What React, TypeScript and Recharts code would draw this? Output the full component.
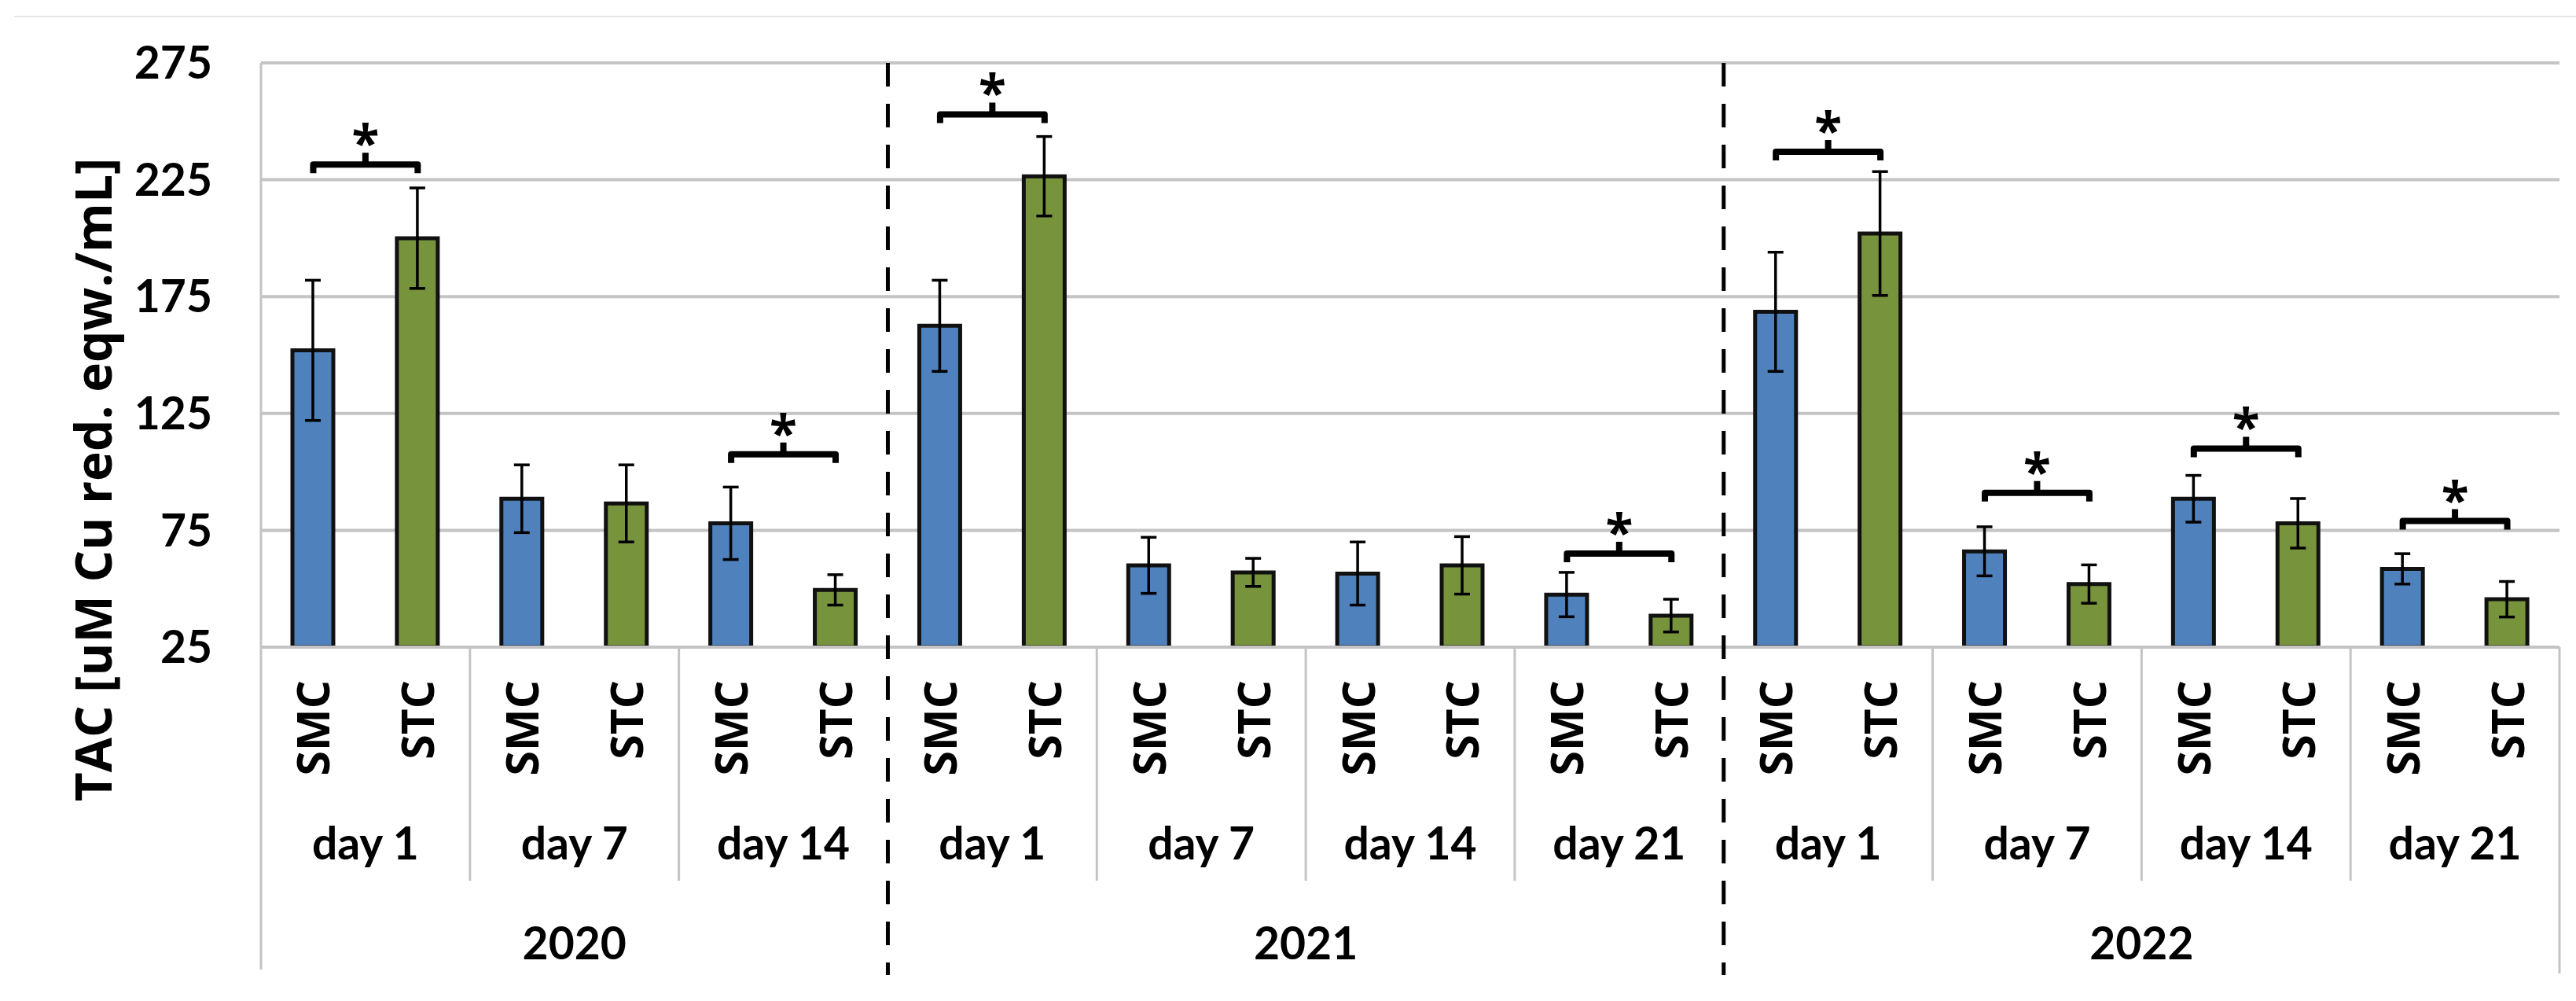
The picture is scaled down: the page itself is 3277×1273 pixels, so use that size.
import {
  BarChart,
  Bar,
  XAxis,
  YAxis,
  CartesianGrid,
  ErrorBar,
  Cell,
  ReferenceLine
} from "recharts"

const years = ["2020", "2021", "2022"]
const daysByYear = [
  ["day 1", "day 7", "day 14"],
  ["day 1", "day 7", "day 14", "day 21"],
  ["day 1", "day 7", "day 14", "day 21"]
]

// one value per day group, in the order above
const smcMean = [152, 88.5, 78, 162.5, 60, 56.5, 47.5, 168.5, 66, 88.5, 58.5]
const smcErr = [30, 14.5, 15.5, 19.5, 12, 13.5, 9.5, 25.5, 10.5, 10, 6.5]
const stcMean = [200, 86.5, 49.5, 226.5, 57, 60, 38.5, 202, 52, 78, 45.5]
const stcErr = [21.5, 16.5, 6.5, 17, 6, 12.3, 7, 26.5, 8.2, 10.6, 7.6]

// groups marked with * and the height of their bracket
const sigGroups = [0, 2, 3, 6, 7, 8, 9, 10]
const sigLevels = [231.5, 107.5, 253, 65, 237, 91, 110, 79]

const yTicks = [25, 75, 125, 175, 225, 275]

const BLUE = "#4f81bd"
const GREEN = "#77933c"
const GRID = "#c4c4c4"

const groups = years.flatMap((year, yi) =>
  daysByYear[yi].map((day, di) => ({ year, day, first: di === 0, span: daysByYear[yi].length * 2 }))
)

const rows = groups.flatMap((g, gi) => [
  { key: `${g.year} ${g.day} SMC`, trt: "SMC", day: g.day, year: g.year, first: g.first, span: g.span, value: smcMean[gi], err: smcErr[gi] },
  { key: `${g.year} ${g.day} STC`, trt: "STC", day: g.day, year: g.year, first: false, span: g.span, value: stcMean[gi], err: stcErr[gi] }
])

const W = 3277
const H = 1273
const margin = { top: 80, right: 21, left: 0, bottom: 0 }
const Y_AXIS_W = 332
const X_AXIS_H = 450
const SLOT = (W - margin.left - margin.right - Y_AXIS_W) / rows.length
const PLOT_H = H - margin.top - margin.bottom - X_AXIS_H

const labelFont = { fontFamily: "Lato", fontWeight: 700, fill: "#000" }
const trtFont = { fontFamily: "Open Sans", fontWeight: 700, fill: "#000" }

function AxisTick(props: any) {
  const { x, y, index } = props
  const row = rows[index]
  const left = x - SLOT / 2
  const tx = x + 21
  const ty = y + 42
  return (
    <g>
      <text x={tx} y={ty} transform={`rotate(-90 ${tx} ${ty})`} textAnchor="end" fontSize={57} {...trtFont}>
        {row.trt}
      </text>
      {row.trt === "SMC" && (
        <text x={x + SLOT / 2} y={y + 270} textAnchor="middle" fontSize={57} {...labelFont}>
          {row.day}
        </text>
      )}
      {row.trt === "SMC" && !row.first && (
        <line x1={left} x2={left} y1={y} y2={y + 297} stroke={GRID} strokeWidth={3} />
      )}
      {row.first && (
        <text x={left + (row.span * SLOT) / 2} y={y + 397} textAnchor="middle" fontSize={57} {...labelFont}>
          {row.year}
        </text>
      )}
      {row.first && index === 0 && (
        <line x1={left} x2={left} y1={y} y2={y + 410} stroke={GRID} strokeWidth={3} />
      )}
      {row.first && index > 0 && (
        <line x1={left} x2={left} y1={y - PLOT_H} y2={y + 417} stroke="#000" strokeWidth={5} strokeDasharray="30 22" />
      )}
      {index === rows.length - 1 && (
        <line x1={x + SLOT / 2} x2={x + SLOT / 2} y1={y} y2={y + 415} stroke={GRID} strokeWidth={3} />
      )}
    </g>
  )
}

function Bracket(props: any) {
  const { x1, x2, y1 } = props
  const cx = (x1 + x2) / 2
  return (
    <g>
      <path
        d={`M${x1},${y1 + 11} V${y1} H${x2} V${y1 + 11} M${cx},${y1} V${y1 - 15}`}
        stroke="#000"
        strokeWidth={8}
        strokeLinejoin="round"
        fill="none"
      />
      <text x={cx} y={y1 - 4} textAnchor="middle" fontSize={64} {...trtFont}>
        *
      </text>
    </g>
  )
}

function YTitle() {
  const tx = 142
  const ty = 610
  return (
    <text x={tx} y={ty} transform={`rotate(-90 ${tx} ${ty})`} textAnchor="middle" fontSize={64} {...trtFont}>
      TAC [uM Cu red. eqw./mL]
    </text>
  )
}

export default function App() {
  return (
    <div style={{ position: "absolute", left: 0, top: 0, width: W, height: H, background: "#fff" }}>
      <div style={{ position: "absolute", left: 18, top: 20, width: W - 18, height: 2, background: "#e6e6e6" }} />
      <BarChart width={W} height={H} data={rows} margin={margin} barSize={52}>
        <CartesianGrid vertical={false} stroke={GRID} strokeWidth={4} />
        <XAxis
          dataKey="key"
          interval={0}
          height={X_AXIS_H}
          tickSize={0}
          tickMargin={0}
          tickLine={false}
          axisLine={{ stroke: GRID, strokeWidth: 4 }}
          tick={<AxisTick />}
        />
        <YAxis
          width={Y_AXIS_W}
          domain={[25, 275]}
          ticks={yTicks}
          allowDataOverflow
          tickSize={0}
          tickMargin={62}
          tickLine={false}
          axisLine={{ stroke: GRID, strokeWidth: 3 }}
          tick={{ fontSize: 57, ...labelFont }}
          label={{ content: <YTitle /> }}
        />
        <Bar dataKey="value" stroke="#111" strokeWidth={5} isAnimationActive={false}>
          {rows.map((r) => (
            <Cell key={r.key} fill={r.trt === "SMC" ? BLUE : GREEN} />
          ))}
          <ErrorBar dataKey="err" width={10} strokeWidth={3.5} stroke="#000" />
        </Bar>
        {sigGroups.map((gi, i) => (
          <ReferenceLine
            key={gi}
            segment={[
              { x: rows[gi * 2].key, y: sigLevels[i] },
              { x: rows[gi * 2 + 1].key, y: sigLevels[i] }
            ]}
            ifOverflow="visible"
            shape={<Bracket />}
          />
        ))}
      </BarChart>
    </div>
  )
}
